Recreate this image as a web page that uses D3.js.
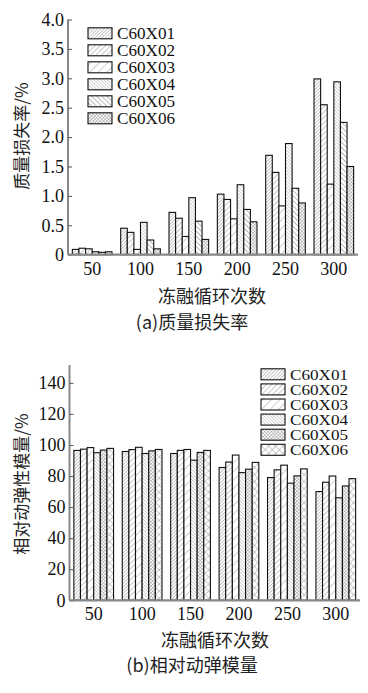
<!DOCTYPE html>
<html><head><meta charset="utf-8">
<script src="https://cdn.jsdelivr.net/npm/d3@7"></script>
<style>body{margin:0;background:#fff}</style>
</head><body><svg id="c" width="368" height="693"></svg>
<script>
const cycles = ["50","100","150","200","250","300"];
const series = ["C60X01","C60X02","C60X03","C60X04","C60X05","C60X06"];
// (a) mass loss rate, %
const lossX01 = [0.09, 0.45, 0.72, 1.03, 1.69, 2.99];
const lossX02 = [0.11, 0.38, 0.62, 0.94, 1.40, 2.55];
const lossX03 = [0.10, 0.09, 0.31, 0.61, 0.83, 1.20];
const lossX04 = [0.05, 0.55, 0.97, 1.19, 1.89, 2.94];
const lossX05 = [0.04, 0.25, 0.57, 0.77, 1.13, 2.25];
const lossX06 = [0.05, 0.10, 0.26, 0.56, 0.88, 1.50];
// (b) relative dynamic modulus, %
const modX01 = [96.5, 95.8, 94.5, 85.5, 79.0, 70.0];
const modX02 = [97.3, 97.0, 96.5, 89.0, 84.0, 76.0];
const modX03 = [98.3, 98.5, 97.1, 93.5, 87.0, 80.0];
const modX04 = [95.0, 94.5, 90.2, 82.2, 75.4, 66.0];
const modX05 = [96.7, 96.2, 95.2, 84.4, 80.1, 73.6];
const modX06 = [97.8, 97.1, 96.5, 88.8, 84.6, 78.3];
const lossTicks = [0, 0.5, 1.0, 1.5, 2.0, 2.5, 3.0, 3.5, 4.0];
const lossTickLabels = ["0","0.5","1.0","1.5","2.0","2.5","3.0","3.5","4.0"];
const modTicks = [0, 20, 40, 60, 80, 100, 120, 140];

const lossData = [lossX01, lossX02, lossX03, lossX04, lossX05, lossX06];
const modData = [modX01, modX02, modX03, modX04, modX05, modX06];

const svg = d3.select("#c");
const defs = svg.append("defs");
const serif = "'Liberation Serif','DejaVu Serif',serif";
const cjk = "'Noto Sans CJK SC','Noto Sans',sans-serif";

function hatch(id, spacing, angles, color, w) {
  const p = defs.append("pattern").attr("id", id)
    .attr("patternUnits", "userSpaceOnUse")
    .attr("width", spacing).attr("height", spacing)
    .attr("patternTransform", `rotate(${angles})`);
  p.append("rect").attr("width", spacing).attr("height", spacing).attr("fill", "#fff");
  p.append("line").attr("x1", 0).attr("y1", 0).attr("x2", 0).attr("y2", spacing)
    .attr("stroke", color).attr("stroke-width", w);
  return p;
}
function cross(id, spacing, color, w) {
  const p = hatch(id, spacing, 45, color, w);
  p.append("line").attr("x1", 0).attr("y1", 0).attr("x2", spacing).attr("y2", 0)
    .attr("stroke", color).attr("stroke-width", w);
}
hatch("pFineF", 2.4, 45, "#777", 0.8);
hatch("pMedF", 3.8, 45, "#777", 0.8);
hatch("pWideF", 6, 45, "#888", 0.8);
hatch("pFineB", 2.4, -45, "#888", 0.7);
hatch("pMedB", 3.6, -45, "#666", 0.9);
cross("pDense", 2.4, "#777", 0.7);
cross("pBig", 5, "#888", 0.8);

const topPatterns = ["pFineF","pMedF","pWideF","pFineB","pMedB","pDense"];
const botPatterns = ["pFineF","pMedF","pWideF","pFineB","pDense","pBig"];

function chart(o) {
  const x = d3.scaleBand().domain(cycles).range(o.xr).paddingInner(0.18).paddingOuter(0.09);
  const xs = d3.scaleBand().domain(series).range([0, x.bandwidth()]);
  const y = d3.scaleLinear().domain(o.yd).range(o.yr);
  const g = svg.append("g");
  // bars
  series.forEach((s, si) => {
    g.selectAll(null).data(o.data[si]).enter().append("rect")
      .attr("x", (d, i) => x(cycles[i]) + xs(s))
      .attr("y", d => y(d))
      .attr("width", xs.bandwidth())
      .attr("height", d => y(0) - y(d))
      .attr("fill", `url(#${o.pats[si]})`)
      .attr("stroke", "#111").attr("stroke-width", 1.1);
  });
  // y axis
  const ya = g.append("g").attr("transform", `translate(${o.xr[0]},0)`)
    .call(d3.axisLeft(y).tickValues(o.ticks).tickSize(-4).tickFormat((d, i) => o.tickLabels[i]).tickPadding(6));
  ya.select(".domain").attr("stroke", "#888").attr("stroke-width", 2);
  ya.selectAll(".tick line").attr("stroke", "#555").attr("stroke-width", 1);
  ya.selectAll("text").attr("font-family", serif).attr("font-size", 18).attr("fill", "#111").attr("x", -4);
  ya.select(".domain").attr("d", `M0,${o.yr[0]}V${o.ytop}`);
  // x axis
  const xa = g.append("g").attr("transform", `translate(0,${o.yr[0]})`)
    .call(d3.axisBottom(x).tickSize(0).tickPadding(o.xpad));
  xa.select(".domain").attr("stroke", "#888").attr("stroke-width", 2.2)
    .attr("d", `M${o.xr[0]},0H${o.xr[1]}`);
  xa.selectAll("text").attr("font-family", serif).attr("font-size", 18).attr("fill", "#111");
  // legend
  series.forEach((s, si) => {
    const cy = o.leg.y + si * o.leg.dy;
    g.append("rect").attr("x", o.leg.x).attr("y", cy - 5.5).attr("width", 24).attr("height", 11)
      .attr("fill", `url(#${o.pats[si]})`).attr("stroke", "#111").attr("stroke-width", 1.1);
    g.append("text").attr("x", o.leg.x + 29).attr("y", cy).attr("dy", "0.35em")
      .attr("font-family", serif).attr("font-size", o.leg.fs).attr("fill", "#111")
      .attr("textLength", 58).attr("lengthAdjust", "spacingAndGlyphs").text(s);
  });
  // labels
  g.append("text").attr("transform", `translate(${o.ylab.x},${o.ylab.y}) rotate(-90)`)
    .attr("text-anchor", "middle").attr("dy", "0.35em")
    .attr("font-family", cjk).attr("font-size", 17).attr("fill", "#222").text(o.ylab.t);
  g.append("text").attr("x", o.xlab.x).attr("y", o.xlab.y).attr("text-anchor", "middle").attr("dy", "0.35em")
    .attr("font-family", cjk).attr("font-size", 18).attr("fill", "#222").text("冻融循环次数");
  g.append("text").attr("x", o.cap.x).attr("y", o.cap.y).attr("text-anchor", "middle").attr("dy", "0.35em")
    .attr("font-family", cjk).attr("font-size", 18).attr("fill", "#222").text(o.cap.t);
}

chart({
  data: lossData, pats: topPatterns, xr: [68, 358], yd: [0, 4], yr: [254.7, 19.5], ytop: 19.5,
  ticks: lossTicks, tickLabels: lossTickLabels, xpad: 8,
  leg: {x: 88, y: 33.3, dy: 17, fs: 17},
  ylab: {x: 22, y: 136, t: "质量损失率/%"},
  xlab: {x: 212, y: 297}, cap: {x: 192, y: 323, t: "(a)质量损失率"}
});
chart({
  data: modData, pats: botPatterns, xr: [69.5, 360], yd: [0, 150], yr: [600.3, 367.3], ytop: 365,
  ticks: modTicks, tickLabels: modTicks.map(String), xpad: 7,
  leg: {x: 261, y: 374.3, dy: 15.1, fs: 15.5},
  ylab: {x: 22, y: 484, t: "相对动弹性模量/%"},
  xlab: {x: 215, y: 641}, cap: {x: 192, y: 666, t: "(b)相对动弹模量"}
});
</script></body></html>
